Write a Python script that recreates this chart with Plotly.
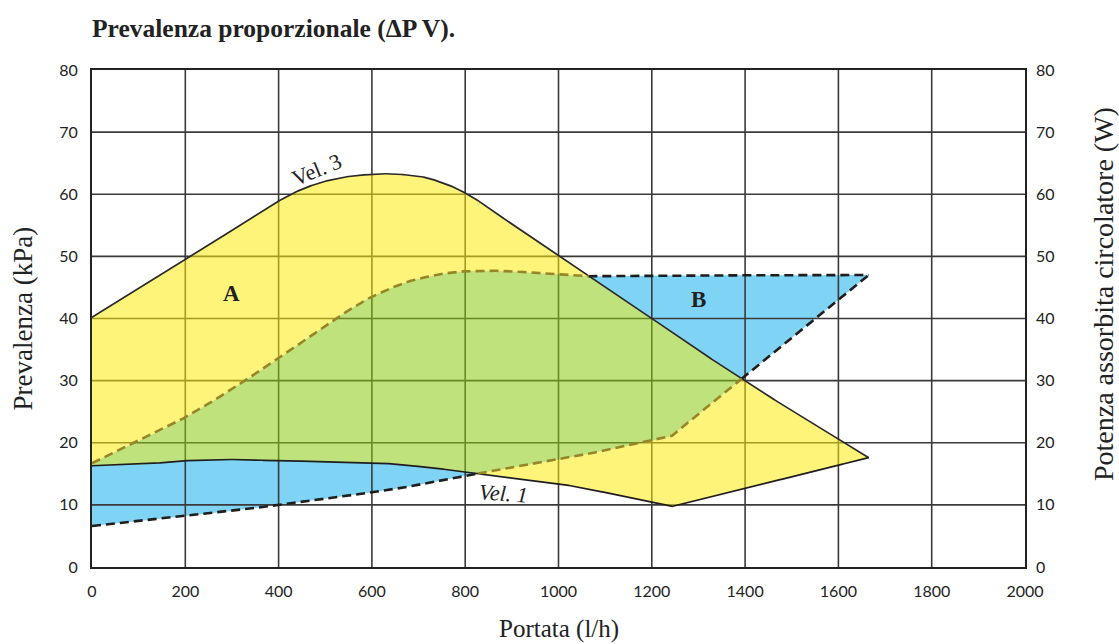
import numpy as np
import plotly.graph_objects as go

# ---- data ----
vel3_x = [0, 100, 200, 300, 400, 450, 500, 560, 630, 700, 760, 800, 900, 1000, 1200, 1396, 1665]
vel3_y = [40.2, 44.8, 49.4, 54.2, 58.9, 60.8, 62.1, 62.95, 63.3, 62.9, 61.6, 60.2, 55.2, 50.1, 40.0, 30.1, 17.6]

vel1_x = [0, 100, 200, 300, 400, 600, 700, 800, 1000, 1241, 1665]
vel1_y = [16.3, 16.5, 17.1, 17.3, 17.1, 16.8, 16.2, 15.3, 13.4, 9.7, 17.6]

pmax_x = [0, 200, 400, 500, 600, 700, 800, 850, 1000, 1075, 1200, 1665]
pmax_y = [16.7, 24.1, 33.6, 38.8, 43.5, 46.4, 47.6, 47.7, 47.1, 46.8, 46.9, 47.0]

pmin_x = [0, 200, 339, 500, 660, 838, 1000, 1089, 1241, 1665]
pmin_y = [6.6, 8.2, 9.4, 11.0, 12.7, 15.2, 17.3, 18.6, 21.0, 47.0]

x_ticks = list(range(0, 2001, 200))
y_ticks = list(range(0, 81, 10))

labels = {"A": (300, 44), "B": (1300, 43)}


# ---- smooth interpolation (monotone cubic) ----
def pchip(xp, yp, xq):
    xp = np.asarray(xp, float)
    yp = np.asarray(yp, float)
    h = np.diff(xp)
    d = np.diff(yp) / h
    n = len(xp)
    m = np.zeros(n)
    m[0], m[-1] = d[0], d[-1]
    for k in range(1, n - 1):
        if d[k - 1] * d[k] <= 0:
            m[k] = 0.0
        else:
            w1 = 2 * h[k] + h[k - 1]
            w2 = h[k] + 2 * h[k - 1]
            m[k] = (w1 + w2) / (w1 / d[k - 1] + w2 / d[k])
    idx = np.clip(np.searchsorted(xp, xq) - 1, 0, n - 2)
    t = (xq - xp[idx]) / h[idx]
    h00 = 2 * t**3 - 3 * t**2 + 1
    h10 = t**3 - 2 * t**2 + t
    h01 = -2 * t**3 + 3 * t**2
    h11 = t**3 - t**2
    return h00 * yp[idx] + h10 * h[idx] * m[idx] + h01 * yp[idx + 1] + h11 * h[idx] * m[idx + 1]


def curve(xp, yp, xq, kink=None):
    if kink is None:
        return pchip(xp, yp, xq)
    k = xp.index(kink)
    out = np.interp(xq, xp, yp)
    sel = xq <= kink
    out[sel] = pchip(xp[:k + 1], yp[:k + 1], xq[sel])
    return out


xs = np.union1d(np.linspace(0, 1665, 1666), np.array(vel3_x + vel1_x + pmax_x + pmin_x, float))
v3 = curve(vel3_x, vel3_y, xs)
v1 = curve(vel1_x, vel1_y, xs, kink=1241)
pu = curve(pmax_x, pmax_y, xs)
pl = curve(pmin_x, pmin_y, xs, kink=1241)


def band(lower, upper):
    upper = np.maximum(upper, lower)
    px = np.concatenate([xs, xs[::-1]])
    py = np.concatenate([upper, lower[::-1]])
    return px, py


BLUE = "rgb(127,212,245)"
YELLOW = "rgba(255,235,13,0.55)"
GREEN = "rgba(140,202,19,0.55)"
GRID = "rgb(58,58,58)"
OLIVE = "rgb(150,134,38)"

fig = go.Figure()


def add_fill(lower, upper, color):
    px, py = band(lower, upper)
    fig.add_trace(go.Scatter(x=px, y=py, fill="toself", fillcolor=color, mode="none",
                             hoverinfo="skip", showlegend=False))


# blue-only pieces (opaque)
add_fill(pl, np.minimum(pu, v1), BLUE)
add_fill(np.maximum(pl, v3), pu, BLUE)

# grid drawn as a trace (so it shows through yellow/green)
gx, gy = [], []
for t in x_ticks[1:-1]:
    gx += [t, t, None]
    gy += [0, 80, None]
for t in y_ticks[1:-1]:
    gx += [0, 2000, None]
    gy += [t, t, None]
fig.add_trace(go.Scatter(x=gx, y=gy, mode="lines", line=dict(color=GRID, width=1.6),
                         hoverinfo="skip", showlegend=False))

# yellow-only and green pieces (translucent)
add_fill(np.maximum(v1, pu), v3, YELLOW)
add_fill(v1, np.minimum(v3, pl), YELLOW)
add_fill(np.maximum(v1, pl), np.minimum(v3, pu), GREEN)

# solid curves
fig.add_trace(go.Scatter(x=xs, y=v3, mode="lines", line=dict(color="#2a2a2a", width=1.7),
                         hoverinfo="skip", showlegend=False))
fig.add_trace(go.Scatter(x=xs, y=v1, mode="lines", line=dict(color="#1e1e1e", width=1.7),
                         hoverinfo="skip", showlegend=False))


# dashed power curves: olive inside the yellow area, black outside
def dashed(yv):
    inside = (yv <= v3 + 1e-9) & (yv >= v1 - 1e-9)
    ins = inside.copy()
    ins[1:] |= inside[:-1]
    ins[:-1] |= inside[1:]
    out = ~inside
    outs = out.copy()
    outs[1:] |= out[:-1]
    outs[:-1] |= out[1:]
    y_in = np.where(ins, yv, np.nan)
    y_out = np.where(outs, yv, np.nan)
    fig.add_trace(go.Scatter(x=xs, y=y_out, mode="lines",
                             line=dict(color="#1e1e1e", width=2.6, dash="9px,5px"),
                             hoverinfo="skip", showlegend=False))
    fig.add_trace(go.Scatter(x=xs, y=y_in, mode="lines",
                             line=dict(color=OLIVE, width=2.6, dash="9px,5px"),
                             hoverinfo="skip", showlegend=False))


dashed(pu)
dashed(pl)

# invisible trace on the right axis so it is drawn
fig.add_trace(go.Scatter(x=[0], y=[0], yaxis="y2", mode="markers", marker=dict(opacity=0),
                         hoverinfo="skip", showlegend=False))

serif = "Liberation Serif"
sans = "Lato"

for k, (lx, ly) in labels.items():
    fig.add_annotation(x=lx, y=ly, text=f"<b>{k}</b>", showarrow=False,
                       font=dict(family=serif, size=23, color="#222"))

fig.add_annotation(x=482, y=64.0, text="Vel. 3", showarrow=False, textangle=-22,
                   font=dict(family=serif, size=22, color="#222"))
fig.add_annotation(x=883, y=11.9, text="<i>Vel. 1</i>", showarrow=False, textangle=4,
                   font=dict(family=serif, size=22, color="#222"))

# axis titles
fig.add_annotation(xref="paper", yref="paper", x=0.5, y=-0.124, yanchor="middle",
                   text="Portata (l/h)", showarrow=False,
                   font=dict(family=serif, size=25, color="#222"))
fig.add_annotation(xref="paper", yref="paper", x=-0.074, y=0.5, xanchor="center",
                   text="Prevalenza (kPa)", textangle=-90, showarrow=False,
                   font=dict(family=serif, size=27, color="#222"))
fig.add_annotation(xref="paper", yref="paper", x=1.084, y=0.55, xanchor="center",
                   text="Potenza assorbita circolatore (W)", textangle=-90, showarrow=False,
                   font=dict(family=serif, size=28, color="#222"))
fig.add_annotation(xref="paper", yref="paper", x=1.0, y=-0.145, xanchor="left", yanchor="top",
                   xshift=-107, text="EEI ≤ 0,20 Part 3", showarrow=False,
                   font=dict(family=serif, size=18, color="#222"))

axis_common = dict(showgrid=False, zeroline=False, showline=True, linecolor="#222", linewidth=2.2,
                   ticks="", ticklabelstandoff=9, tickfont=dict(family=sans, size=16, color="#222"))

fig.update_layout(
    width=1119, height=644,
    margin=dict(l=92, r=94, t=70, b=77),
    paper_bgcolor="white", plot_bgcolor="white",
    title=dict(text="<b>Prevalenza proporzionale (ΔP V).</b>", x=92 / 1119, xanchor="left",
               y=1 - 28 / 644, yanchor="middle", font=dict(family=serif, size=25.5, color="#222")),
    xaxis=dict(range=[0, 2000], tickvals=x_ticks, mirror=True, **axis_common),
    yaxis=dict(range=[0, 80], tickvals=y_ticks, mirror=True, **axis_common),
    yaxis2=dict(range=[0, 80], tickvals=y_ticks, overlaying="y", side="right",
                showgrid=False, zeroline=False, showline=False, ticks="", ticklabelstandoff=10,
                tickfont=dict(family=sans, size=16, color="#222")),
)

fig.write_html("out.html", config={"displayModeBar": False},
               post_script="document.body.style.margin='0';document.body.style.overflow='hidden';")
